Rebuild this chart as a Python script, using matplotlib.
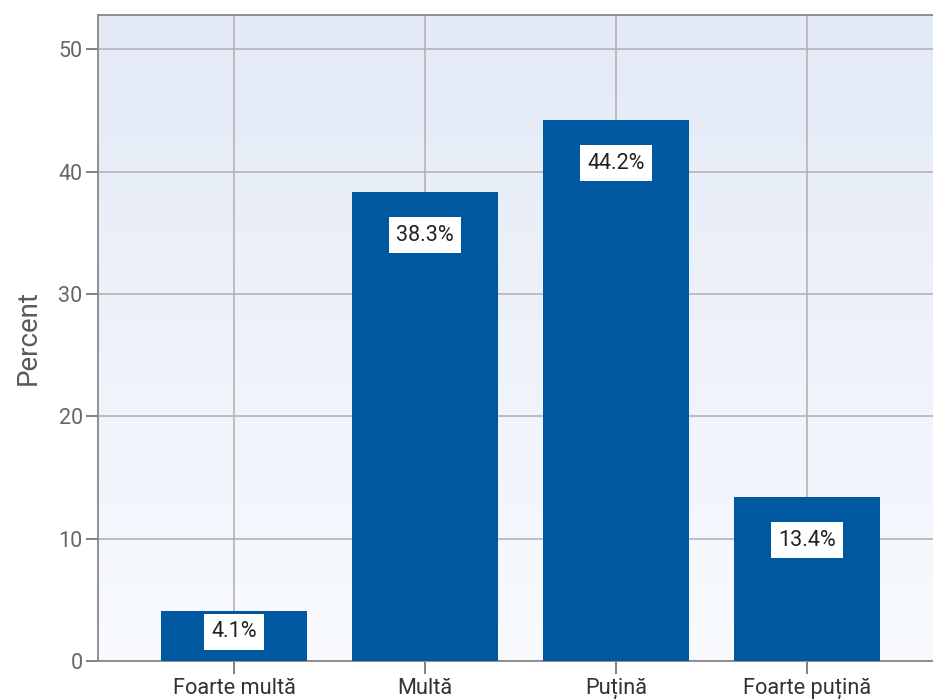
import numpy as np
import matplotlib.pyplot as plt
from matplotlib.colors import LinearSegmentedColormap

plt.rcParams['font.family'] = ['Roboto', 'DejaVu Sans']

categories = ['Foarte multă', 'Multă', 'Puțină', 'Foarte puțină']
percent = [4.1, 38.3, 44.2, 13.4]
yticks = [0, 10, 20, 30, 40, 50]

fig = plt.figure(figsize=(9.33, 6.99), dpi=100)
# axes runs off the right edge like in the reference
ax = fig.add_axes([98 / 933, 1 - 661 / 699, 845 / 933, 646 / 699])

# background gradient, light blue at top to near white at bottom
bg = LinearSegmentedColormap.from_list('bg', ['#f8fafe', '#e3eaf6'])
grad = np.linspace(0, 1, 256).reshape(-1, 1)
ax.imshow(grad, cmap=bg, aspect='auto', origin='lower',
          extent=[0, 1, 0, 1], transform=ax.transAxes, zorder=0)

x = np.arange(len(categories))
bars = ax.bar(x, percent, width=0.76, color='#0058a0', zorder=3)

for xi, v in zip(x, percent):
    if v > 8:
        ax.annotate(f'{v}%', (xi, v), xytext=(0, -31), textcoords='offset points',
                    ha='center', va='center', fontsize=15.5, color='#222222', zorder=4,
                    bbox=dict(boxstyle='square,pad=0.35', fc='white', ec='none'))
    else:
        ax.annotate(f'{v}%', (xi, v / 2), xytext=(0, 3), textcoords='offset points',
                    ha='center', va='center', fontsize=15.5, color='#222222', zorder=4,
                    bbox=dict(boxstyle='square,pad=0.35', fc='white', ec='none'))

ax.set_xlim(-0.712, 3.712)
ax.set_ylim(0, 52.8)
ax.set_xticks(x)
ax.set_xticklabels(categories, fontsize=15.7, color='#333333')
ax.set_yticks(yticks)
ax.set_yticklabels([str(t) for t in yticks], fontsize=15.5, color='#666666')
ax.tick_params(axis='both', length=9, width=1.3, color='#777777', pad=2)
ax.tick_params(axis='x', pad=3)
ax.grid(True, color='#b3b3b3', linewidth=1.2, zorder=1)
ax.set_axisbelow(True)

for s in ['left', 'bottom', 'top']:
    ax.spines[s].set_color('#888888')
    ax.spines[s].set_linewidth(1.3)
ax.spines['right'].set_visible(False)

ax.set_ylabel('Percent', fontsize=20, color='#5a5a5a', labelpad=12)

fig.savefig('out.png', dpi=100)
